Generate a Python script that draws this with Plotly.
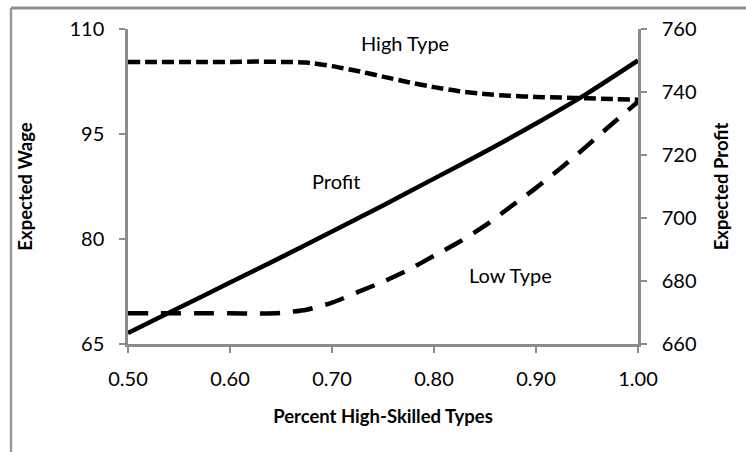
import plotly.graph_objects as go

# Percent high-skilled types (x)
share = [0.50, 0.525, 0.55, 0.575, 0.60, 0.625, 0.65, 0.675, 0.70, 0.725, 0.75,
         0.775, 0.80, 0.825, 0.85, 0.875, 0.90, 0.925, 0.95, 0.975, 1.00]
# Expected wage, high type (left axis)
high_wage = [105.3, 105.3, 105.3, 105.3, 105.3, 105.35, 105.3, 105.2, 104.7, 104.0, 103.2,
             102.4, 101.7, 101.1, 100.7, 100.45, 100.3, 100.2, 100.1, 100.0, 99.9]
# Expected wage, low type (left axis)
low_wage = [69.4, 69.4, 69.4, 69.4, 69.4, 69.35, 69.45, 69.9, 70.9, 72.4, 73.9,
            75.6, 77.6, 79.6, 81.9, 84.6, 87.3, 90.2, 93.3, 96.5, 99.6]
# Expected profit (right axis)
profit_share = [0.50, 0.55, 0.60, 0.65, 0.70, 0.75, 0.80, 0.85, 0.90, 0.95, 1.00]
profit = [663.5, 671.5, 679.5, 687.5, 695.7, 704.0, 712.5, 721.0, 730.0, 739.5, 750.0]

x_ticks = [0.5, 0.6, 0.7, 0.8, 0.9, 1.0]
x_tick_labels = ["0.50", "0.60", "0.70", "0.80", "0.90", "1.00"]
left_ticks = [65, 80, 95, 110]
right_ticks = [660, 680, 700, 720, 740, 760]

FONT = "Lato"
AX = "#8c8c8c"

fig = go.Figure()
fig.add_trace(go.Scatter(x=share, y=high_wage, mode="lines", name="High Type",
                         line=dict(color="black", width=4.5, dash="12px,5px", shape="spline", smoothing=0.6)))
fig.add_trace(go.Scatter(x=share, y=low_wage, mode="lines", name="Low Type",
                         line=dict(color="black", width=4.5, dash="20px,13px", shape="spline", smoothing=0.6)))
fig.add_trace(go.Scatter(x=profit_share, y=profit, mode="lines", name="Profit", yaxis="y2",
                         line=dict(color="black", width=4.5, shape="spline", smoothing=0.6)))

fig.update_layout(
    width=746, height=452,
    margin=dict(l=128, r=108, t=29, b=108),
    paper_bgcolor="white", plot_bgcolor="white",
    showlegend=False,
    font=dict(family=FONT, size=20, color="black"),
    xaxis=dict(range=[0.5, 1.0], tickvals=x_ticks, ticktext=x_tick_labels,
               showgrid=False, zeroline=False, showline=True, linecolor=AX, linewidth=2.5,
               ticks="outside", ticklen=6, tickwidth=2, tickcolor=AX, ticklabelstandoff=9,
               title=dict(text="<b>Percent High-Skilled Types</b>", font=dict(family=FONT, size=18.5), standoff=22)),
    yaxis=dict(range=[65, 110], tickvals=left_ticks,
               showgrid=False, zeroline=False, showline=True, linecolor=AX, linewidth=2.5,
               ticks="outside", ticklen=6, tickwidth=2, tickcolor=AX, ticklabelstandoff=11,
               title=dict(text="<b>Expected Wage</b>", font=dict(family=FONT, size=18.5), standoff=32)),
    yaxis2=dict(range=[660, 760], tickvals=right_ticks, overlaying="y", side="right",
                showgrid=False, zeroline=False, showline=True, linecolor=AX, linewidth=2.5,
                ticks="outside", ticklen=6, tickwidth=2, tickcolor=AX, ticklabelstandoff=11,
                title=dict(text="<b>Expected Profit</b>", font=dict(family=FONT, size=18.5), standoff=20)),
    annotations=[
        dict(x=0.772, y=108.0, xref="x", yref="y", text="High Type", showarrow=False,
             font=dict(family=FONT, size=20)),
        dict(x=0.704, y=88.3, xref="x", yref="y", text="Profit", showarrow=False,
             font=dict(family=FONT, size=20)),
        dict(x=0.875, y=74.8, xref="x", yref="y", text="Low Type", showarrow=False,
             font=dict(family=FONT, size=20)),
    ],
    shapes=[
        dict(type="line", xref="paper", yref="paper", x0=(11 - 128) / 510, x1=(746 - 128) / 510,
             y0=(344 - 8) / 315, y1=(344 - 8) / 315, line=dict(color="#8f8f8f", width=3),
             layer="above"),
        dict(type="line", xref="paper", yref="paper", x0=(11 - 128) / 510, x1=(11 - 128) / 510,
             y0=(344 - 8) / 315, y1=-108 / 315, line=dict(color="#9a9a9a", width=2.5),
             layer="above"),
    ],
)

fig.write_html("out.html", config={"displayModeBar": False},
               post_script="document.body.style.margin='0';")
